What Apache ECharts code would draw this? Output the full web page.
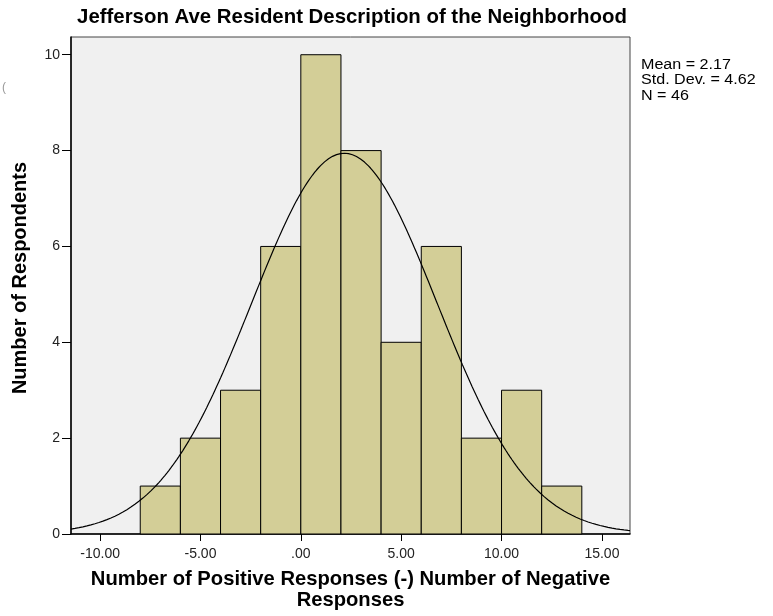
<!DOCTYPE html>
<html>
<head>
<meta charset="utf-8">
<script src="https://cdn.jsdelivr.net/npm/echarts@6/dist/echarts.min.js"></script>
<style>html,body{margin:0;padding:0;background:#fff;}#c{width:773px;height:616px;}</style>
</head>
<body>
<div id="c"></div>
<script>
// Histogram bins (lower edge, upper edge) and counts
const binStarts = [-8, -6, -4, -2, 0, 2, 4, 6, 8, 10, 12];
const binEnds   = [-6, -4, -2, 0, 2, 4, 6, 8, 10, 12, 14];
const counts    = [1, 2, 3, 6, 10, 8, 4, 6, 2, 3, 1];
// Summary statistics shown in the chart
const statMean = 2.17;
const statSd = 4.62;
const statN = 46;
const binWidth = 2;
// Tick labels
const xTicks = [-10, -5, 0, 5, 10, 15];
const yTicks = [0, 2, 4, 6, 8, 10];
const xMin = -11.45, xMax = 16.4, yMax = 10.37;

const barData = binStarts.map((s, i) => [s, binEnds[i], counts[i]]);
// Fitted normal curve defined by the displayed mean / sd / N
const curve = [];
for (let k = 0; k <= 280; k++) {
  const x = xMin + (xMax - xMin) * k / 280;
  const z = (x - statMean) / statSd;
  curve.push([x, statN * binWidth * Math.exp(-0.5 * z * z) / (statSd * Math.sqrt(2 * Math.PI))]);
}

const font = '"Liberation Sans", Arial, sans-serif';
const chart = echarts.init(document.getElementById('c'), null, {renderer: 'canvas'});
chart.setOption({
  animation: false,
  backgroundColor: '#ffffff',
  title: {
    text: 'Jefferson Ave Resident Description of the Neighborhood',
    left: 347, top: 2, textAlign: 'center',
    textStyle: {fontFamily: font, fontWeight: 'bold', fontSize: 20.4, color: '#000'}
  },
  grid: {left: 71, right: 143, top: 37, bottom: 79, show: true,
         backgroundColor: '#f0f0f0', borderColor: '#444', borderWidth: 1},
  xAxis: {
    type: 'value', min: xMin, max: xMax,
    name: 'Number of Positive Responses (-) Number of Negative\nResponses',
    nameLocation: 'middle', nameGap: 35,
    nameTextStyle: {fontFamily: font, fontWeight: 'bold', fontSize: 20.2, color: '#000', lineHeight: 21},
    axisLine: {show: true, onZero: false, lineStyle: {color: '#000', width: 1.5}},
    axisTick: {show: true, customValues: xTicks, length: 7, lineStyle: {color: '#000'}},
    axisLabel: {customValues: xTicks, fontFamily: font, fontSize: 14, color: '#222', margin: 13,
      formatter: v => v === 0 ? '.00' : v.toFixed(2)},
    splitLine: {show: false}
  },
  yAxis: {
    type: 'value', min: 0, max: yMax,
    axisLine: {show: true, onZero: false, lineStyle: {color: '#000', width: 1.5}},
    axisTick: {show: true, customValues: yTicks, length: 9, lineStyle: {color: '#000'}},
    axisLabel: {customValues: yTicks, fontFamily: font, fontSize: 14, color: '#222', margin: 11},
    splitLine: {show: false}
  },
  series: [
    {
      type: 'custom',
      data: barData,
      encode: {x: [0, 1], y: 2},
      renderItem: function (params, api) {
        const p0 = api.coord([api.value(0), 0]);
        const p1 = api.coord([api.value(1), api.value(2)]);
        return {
          type: 'rect',
          shape: {x: p0[0], y: p1[1], width: p1[0] - p0[0], height: p0[1] - p1[1]},
          style: {fill: '#d3ce97', stroke: '#000', lineWidth: 1}
        };
      }
    },
    {
      type: 'line', data: curve, showSymbol: false, smooth: false,
      lineStyle: {color: '#000', width: 1.2}, z: 5
    }
  ],
  graphic: [
    {type: 'text', x: 20, y: 278, rotation: Math.PI / 2,
      style: {text: 'Number of Respondents', font: 'bold 20px ' + font, fill: '#000',
        align: 'center', verticalAlign: 'middle'}},
    {type: 'text', x: 641, y: 57, scaleX: 1.15,
      style: {text: 'Mean = ' + statMean.toFixed(2) + '\nStd. Dev. = ' + statSd.toFixed(2) + '\nN = ' + statN,
      font: '14px ' + font, fill: '#000', lineHeight: 15.5}},
    {type: 'text', left: 2, top: 82, style: {text: '(', font: '12px ' + font, fill: '#999'}}
  ]
});
</script>
</body>
</html>
